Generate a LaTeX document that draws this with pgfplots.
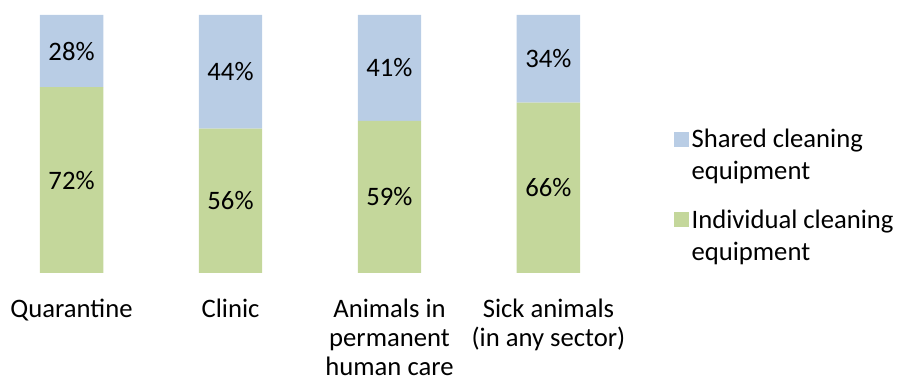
\documentclass[border=0pt]{standalone}
\usepackage{pgfplots}
\pgfplotsset{compat=1.18}
\usepackage{fontspec}
\setmainfont{Carlito}
\definecolor{cblue}{HTML}{B9CDE5}
\definecolor{cgreen}{HTML}{C4D79B}
\begin{document}
\begin{tikzpicture}
\path[use as bounding box] (0,0) rectangle (675pt,286.5pt);
\begin{axis}[
  at={(0pt,81.75pt)}, anchor=south west,
  scale only axis, width=465pt, height=193.5pt,
  ybar stacked, bar width=47.6pt,
  xmin=-0.45, xmax=3.45, ymin=0, ymax=100,
  axis x line=bottom, axis y line=none,
  x axis line style={draw=none},
  xtick={0,1,2,3}, major tick length=0pt,
  xticklabels={Quarantine, Clinic, {Animals in\\permanent\\human care}, {Sick animals\\(in any sector)}},
  xticklabel style={font=\fontsize{20}{22}\selectfont, align=center, inner sep=0pt, yshift=-19pt},
  reverse legend,
  legend style={draw=none, at={(1.08,0.30)}, anchor=west, font=\fontsize{20}{24}\selectfont,
    nodes={align=left}, row sep=17pt},
  legend cell align=left,
  legend image code/.code={\fill[#1] (0pt,6.5pt) rectangle (11.25pt,17.7pt);},
]
\addplot[fill=cgreen, draw=none] coordinates {(0,72) (1,56) (2,59) (3,66)};
\addlegendentry{Individual cleaning\\equipment}
\addplot[fill=cblue, draw=none] coordinates {(0,28) (1,44) (2,41) (3,34)};
\addlegendentry{Shared cleaning\\equipment}
\end{axis}
\begin{axis}[
  at={(0pt,81.75pt)}, anchor=south west,
  scale only axis, width=465pt, height=193.5pt,
  xmin=-0.45, xmax=3.45, ymin=0, ymax=100, hide axis,
]
\addplot[draw=none, mark=none, nodes near coords, point meta=explicit symbolic,
  every node near coord/.style={anchor=center, font=\fontsize{20}{23}\selectfont}]
  coordinates {(0,36)[72\%] (1,28)[56\%] (2,29.5)[59\%] (3,33)[66\%]
               (0,86)[28\%] (1,78)[44\%] (2,79.5)[41\%] (3,83)[34\%]};
\end{axis}
\end{tikzpicture}
\end{document}
